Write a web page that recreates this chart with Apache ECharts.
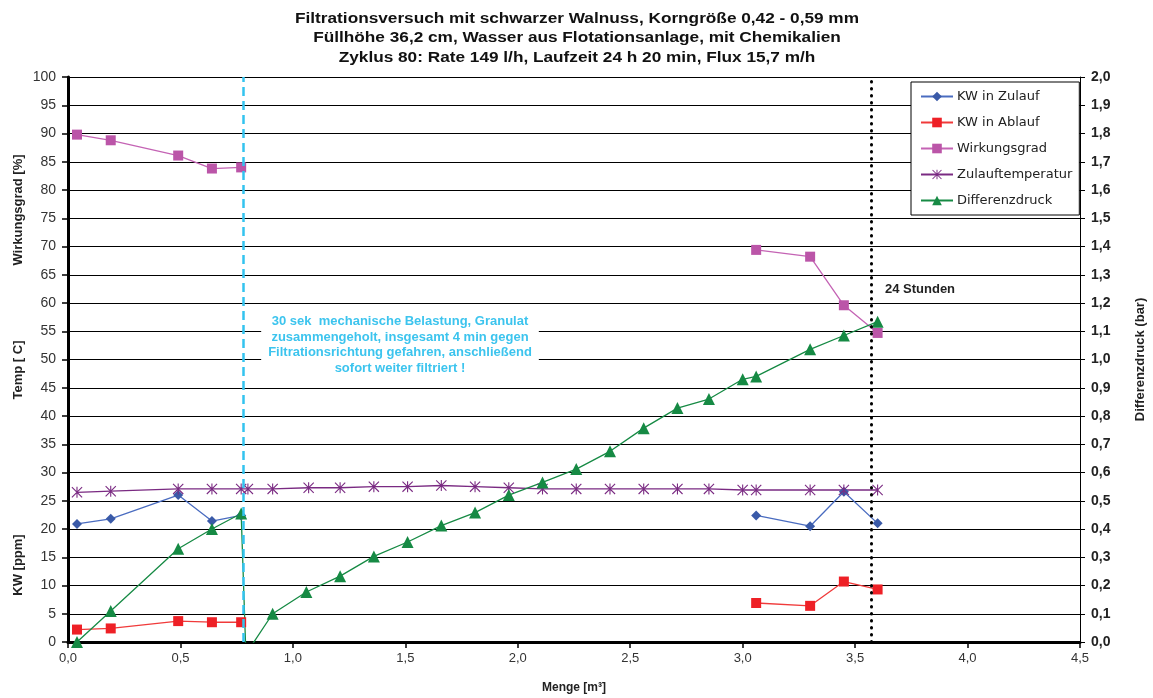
<!DOCTYPE html>
<html>
<head>
<meta charset="utf-8">
<script src="https://cdn.jsdelivr.net/npm/echarts@6/dist/echarts.min.js"></script>
<style>
  html, body { margin: 0; padding: 0; background: #fff; }
  #chart { width: 1153px; height: 698px; }
</style>
</head>
<body>
<div id="chart"></div>
<script>
var myChart = echarts.init(document.getElementById('chart'));

// Menge [m3] der Proben (null = Lücke in der Linie)
var mengeProbe = [0.04, 0.19, 0.49, 0.64, 0.77, null, 3.06, 3.30, 3.45, 3.60];
var kwZulauf = [20.9, 21.8, 26.0, 21.4, 22.4, null, 22.4, 20.5, 26.6, 21.0];
var kwAblauf = [2.2, 2.4, 3.7, 3.5, 3.5, null, 6.9, 6.4, 10.7, 9.3];
var wirkungsgrad = [89.8, 88.8, 86.1, 83.8, 84.0, null, 69.4, 68.2, 59.6, 54.7];

var mengeTemp = [0.04, 0.19, 0.49, 0.64, 0.77, 0.80, 0.91, 1.07, 1.21, 1.36, 1.51, 1.66, 1.81,
  1.96, 2.11, 2.26, 2.41, 2.56, 2.71, 2.85, 3.00, 3.06, 3.30, 3.45, 3.60];
var zulaufTemp = [26.5, 26.7, 27.1, 27.1, 27.1, 27.1, 27.1, 27.3, 27.3, 27.5, 27.5, 27.7, 27.5,
  27.3, 27.1, 27.1, 27.1, 27.1, 27.1, 27.1, 26.9, 26.9, 26.9, 26.9, 26.9];

var mengeDruck = [0.04, 0.19, 0.49, 0.64, 0.77, 0.79, 0.81, 0.91, 1.06, 1.21, 1.36, 1.51, 1.66,
  1.81, 1.96, 2.11, 2.26, 2.41, 2.56, 2.71, 2.85, 3.00, 3.06, 3.30, 3.45, 3.60];
var differenzdruck = [0, 0.11, 0.33, 0.40, 0.455, -0.02, -0.02, 0.10, 0.177, 0.233, 0.303, 0.354, 0.412,
  0.458, 0.52, 0.565, 0.612, 0.675, 0.757, 0.828, 0.86, 0.93, 0.94, 1.036, 1.085, 1.134];

var rueckspuelung = 0.78;   // mechanische Belastung
var stunden24 = 3.57;       // 24 Stunden

function pairs(xs, ys) {
  return xs.map(function (x, i) {
    if (x === null || ys[i] === null) return ['-', '-'];
    var item = { value: [x, ys[i]] };
    if (ys[i] < 0) item.symbol = 'none';
    return item;
  });
}

function komma(v) { return v.toFixed(1).replace('.', ','); }

var asterisk = 'path://M4.5 0L5.5 0L5.5 10L4.5 10Z M0 0.7L0.7 0L10 9.3L9.3 10Z M0.7 10L0 9.3L9.3 0L10 0.7Z';
var font = 'Liberation Sans, Arial, sans-serif';

option = {
  animation: false,
  backgroundColor: '#fff',
  textStyle: { fontFamily: font },
  grid: { left: 68, right: 73, top: 77, bottom: 56, outerBoundsMode: 'none', containLabel: false },
  legend: {
    orient: 'vertical',
    left: 911,
    top: 82,
    padding: [8, 7, 8, 9],
    itemGap: 13,
    itemWidth: 32,
    itemHeight: 12,
    borderColor: '#000',
    borderWidth: 1,
    borderRadius: 0,
    backgroundColor: '#fff',
    textStyle: { fontSize: 13, color: '#222', fontFamily: 'DejaVu Sans', lineHeight: 12, padding: [0, 0, 0, -1] },
    data: ['KW in Zulauf', 'KW in Ablauf', 'Wirkungsgrad', 'Zulauftemperatur', 'Differenzdruck']
  },
  xAxis: {
    type: 'value',
    min: 0, max: 4.5, interval: 0.5,
    name: 'Menge [m³]',
    nameLocation: 'middle',
    nameGap: 40,
    nameTextStyle: { fontSize: 12, fontWeight: 'bold', color: '#222' },
    axisLine: { lineStyle: { color: '#000', width: 3 } },
    axisTick: { length: 6, lineStyle: { color: '#000', width: 1.5 } },
    axisLabel: { fontSize: 13, color: '#333', margin: 10, formatter: komma },
    splitLine: { show: false }
  },
  yAxis: [{
    type: 'value',
    min: 0, max: 100, interval: 5,
    axisLine: { show: true, lineStyle: { color: '#000', width: 3 } },
    axisTick: { show: true, length: 6, lineStyle: { color: '#000', width: 1.5 } },
    axisLabel: { fontSize: 14, color: '#333', margin: 12 },
    splitLine: { show: true, lineStyle: { color: '#000', width: 1 } }
  }, {
    type: 'value',
    min: 0, max: 2, interval: 0.1,
    position: 'right',
    name: 'Differenzdruck (bar)',
    nameLocation: 'middle',
    nameRotate: 90,
    nameGap: 54,
    nameTextStyle: { fontSize: 13, fontWeight: 'bold', color: '#222' },
    axisLine: { show: true, lineStyle: { color: '#000', width: 1 } },
    axisTick: { show: true, length: 5, lineStyle: { color: '#000' } },
    axisLabel: { fontSize: 14, fontWeight: 'bold', color: '#222', margin: 11, formatter: komma },
    splitLine: { show: false }
  }],
  graphic: [
    { type: 'text', x: 577, y: 9, scaleX: 1.23,
      style: {
        text: 'Filtrationsversuch mit schwarzer Walnuss, Korngröße 0,42 - 0,59 mm\nFüllhöhe 36,2 cm, Wasser aus Flotationsanlage, mit Chemikalien\nZyklus 80: Rate 149 l/h, Laufzeit 24 h 20 min, Flux 15,7 m/h',
        fontSize: 14, fontWeight: 'bold', fill: '#111', align: 'center', lineHeight: 19.5, fontFamily: font
      } },
    { type: 'text', x: 12, y: 210, rotation: Math.PI / 2,
      style: { text: 'Wirkungsgrad [%]', fontSize: 13, fontWeight: 'bold', fill: '#222', fontFamily: font, align: 'center', verticalAlign: 'top' } },
    { type: 'text', x: 12, y: 370, rotation: Math.PI / 2,
      style: { text: 'Temp [ C]', fontSize: 13, fontWeight: 'bold', fill: '#222', fontFamily: font, align: 'center', verticalAlign: 'top' } },
    { type: 'text', x: 12, y: 565, rotation: Math.PI / 2,
      style: { text: 'KW [ppm]', fontSize: 13, fontWeight: 'bold', fill: '#222', fontFamily: font, align: 'center', verticalAlign: 'top' } },
    { type: 'text', x: 400, y: 312, z: 50,
      style: {
        text: '30 sek  mechanische Belastung, Granulat\nzusammengeholt, insgesamt 4 min gegen\nFiltrationsrichtung gefahren, anschließend\nsofort weiter filtriert !',
        fontSize: 13, fontWeight: 'bold', fill: '#3cc4ee', align: 'center', lineHeight: 15.5,
        fontFamily: font, backgroundColor: '#fff', padding: [2, 7, 3, 7]
      } },
    { type: 'text', x: 885, y: 283, z: 50,
      style: { text: '24 Stunden', fontSize: 13, fontWeight: 'bold', fill: '#222', fontFamily: font } }
  ],
  series: [{
    name: 'KW in Zulauf',
    type: 'line',
    data: pairs(mengeProbe, kwZulauf),
    symbol: 'diamond',
    symbolSize: 10,
    itemStyle: { color: '#3a5aa8' },
    lineStyle: { color: '#4a6cc0', width: 1.3 }
  }, {
    name: 'KW in Ablauf',
    type: 'line',
    data: pairs(mengeProbe, kwAblauf),
    symbol: 'rect',
    symbolSize: 10,
    itemStyle: { color: '#ee2026' },
    lineStyle: { color: '#f03a3a', width: 1.3 }
  }, {
    name: 'Wirkungsgrad',
    type: 'line',
    data: pairs(mengeProbe, wirkungsgrad),
    symbol: 'rect',
    symbolSize: 10,
    itemStyle: { color: '#bb55a8' },
    lineStyle: { color: '#c463b4', width: 1.3 }
  }, {
    name: 'Zulauftemperatur',
    type: 'line',
    data: pairs(mengeTemp, zulaufTemp),
    symbol: asterisk,
    symbolSize: 11,
    itemStyle: { color: '#7a2a82' },
    lineStyle: { color: '#7a2a82', width: 1.3 }
  }, {
    name: 'Differenzdruck',
    type: 'line',
    yAxisIndex: 1,
    data: pairs(mengeDruck, differenzdruck),
    symbol: 'triangle',
    symbolSize: 12,
    itemStyle: { color: '#168a44' },
    lineStyle: { color: '#168a44', width: 1.3 }
  }, {
    name: 'Markierungen',
    type: 'line',
    data: [],
    markLine: {
      silent: true,
      symbol: 'none',
      label: { show: false },
      data: [
        { xAxis: rueckspuelung, lineStyle: { color: '#33c3ef', width: 2.5, type: [9, 5] } },
        { xAxis: stunden24, lineStyle: { color: '#000', width: 3, type: [0.5, 6.5], cap: 'round' } }
      ]
    }
  }]
};

myChart.setOption(option);
</script>
</body>
</html>
